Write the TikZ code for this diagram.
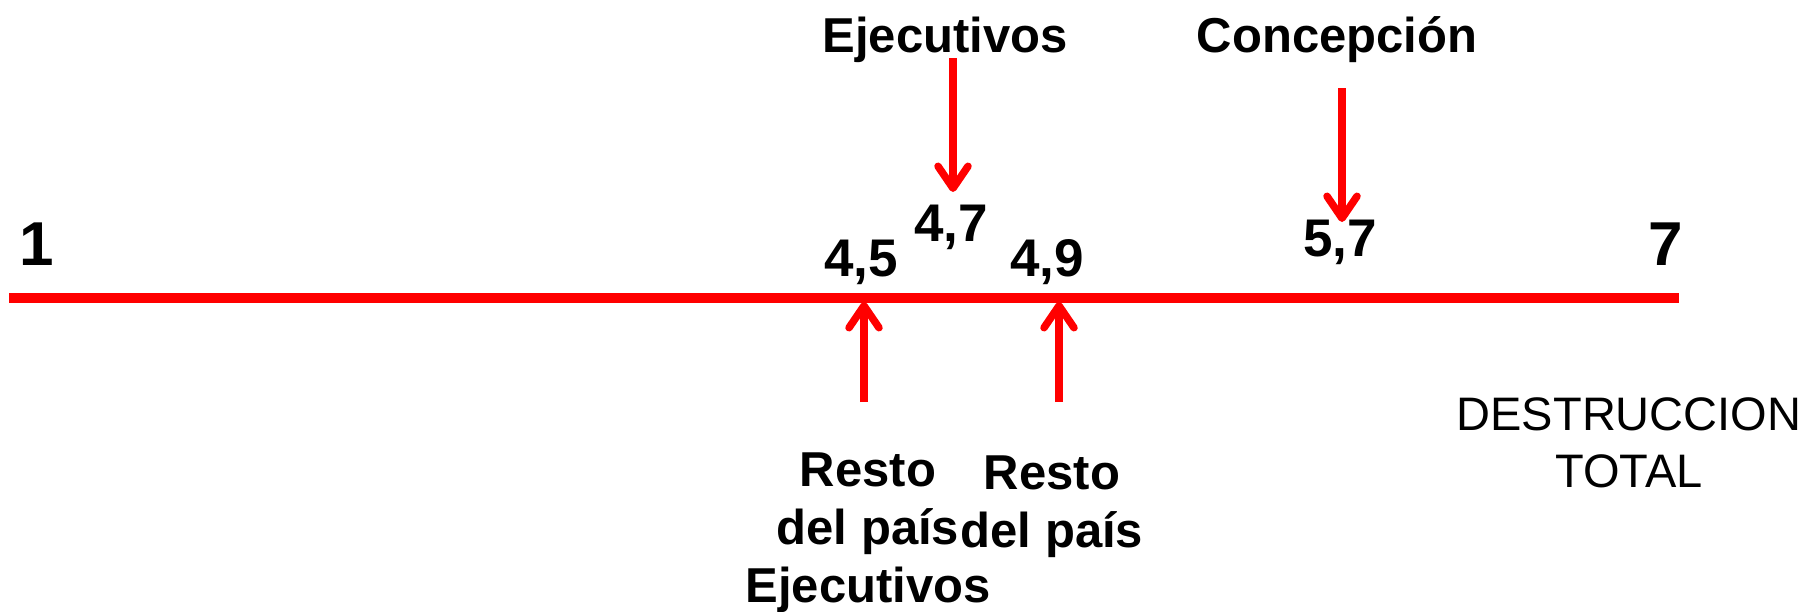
\documentclass[tikz,border=0pt]{standalone}
\usepackage{fontspec}
\setmainfont{Liberation Sans}
\usetikzlibrary{arrows.meta}
\definecolor{axisred}{RGB}{255,0,0}
\begin{document}
\begin{tikzpicture}[x=1pt,y=-1pt,
  lbl/.style={inner sep=0pt,anchor=base,font=\bfseries\fontsize{49}{58}\selectfont},
  num/.style={inner sep=0pt,anchor=base,font=\bfseries\fontsize{53}{60}\selectfont},
  endnum/.style={inner sep=0pt,anchor=base,font=\bfseries\fontsize{62}{70}\selectfont},
  plain/.style={inner sep=0pt,anchor=base,align=center,font=\fontsize{47}{57}\selectfont},
  ptr/.style={draw=axisred,line width=7.5pt,-{Straight Barb[length=22pt,width=30pt,round]}}]
\useasboundingbox[fill=white] (0,0) rectangle (1806,611);
% axis
\coordinate (L) at (9,297.5);
\coordinate (R) at (1679,297.5);
\draw[axisred,line width=10pt] (L) -- (R);
% end labels
\node[endnum] (one) at (37,265) {1};
\node[endnum] (seven) at (1666,265) {7};
% values
\node[num] (v45) at (861,276) {4,5};
\node[num] (v47) at (951,241) {4,7};
\node[num] (v49) at (1047,276) {4,9};
\node[num] (v57) at (1340,256) {5,7};
% top labels
\node[lbl] (ejtop) at (945,52) {Ejecutivos};
\node[lbl] (conc) at (1337,52) {Concepción};
% bottom labels (base = last line)
\node[lbl,align=center] (rest1) at (868,602) {Resto\\del país\\Ejecutivos};
\node[lbl,align=center] (rest2) at (1052,547) {Resto\\del país};
\node[plain] (destr) at (1629,487) {DESTRUCCION\\TOTAL};
% arrows
\coordinate (a1s) at (953,58);  \coordinate (a1e) at (953,192);
\coordinate (a2s) at (1342,88); \coordinate (a2e) at (1342,222);
\coordinate (b1s) at (864,402); \coordinate (b1e) at (864,302);
\coordinate (b2s) at (1059,402); \coordinate (b2e) at (1059,302);
\draw[ptr] (a1s) -- (a1e);
\draw[ptr] (a2s) -- (a2e);
\draw[ptr] (b1s) -- (b1e);
\draw[ptr] (b2s) -- (b2e);
\end{tikzpicture}
\end{document}
